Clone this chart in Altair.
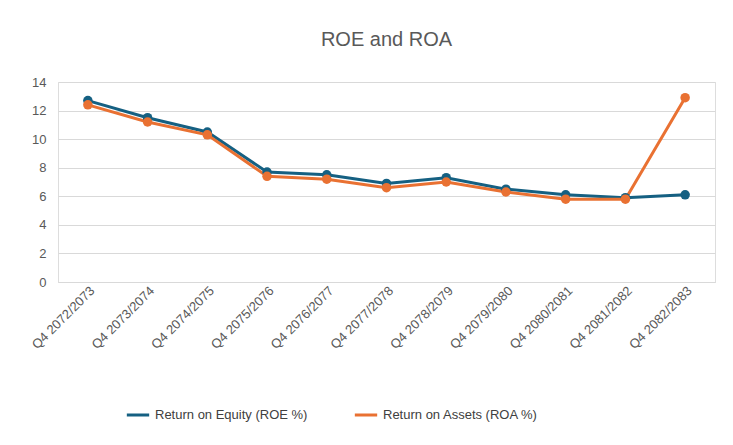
import altair as alt
import pandas as pd

periods = ["Q4 2072/2073", "Q4 2073/2074", "Q4 2074/2075", "Q4 2075/2076", "Q4 2076/2077",
           "Q4 2077/2078", "Q4 2078/2079", "Q4 2079/2080", "Q4 2080/2081", "Q4 2081/2082",
           "Q4 2082/2083"]
roe = [12.7, 11.5, 10.5, 7.7, 7.5, 6.9, 7.3, 6.5, 6.1, 5.9, 6.1]
roa = [12.4, 11.2, 10.3, 7.4, 7.2, 6.6, 7.0, 6.3, 5.8, 5.8, 12.9]

s_roe = "Return on Equity (ROE %)"
s_roa = "Return on Assets (ROA %)"

df = pd.concat([
    pd.DataFrame({"period": periods, "value": roe, "series": s_roe}),
    pd.DataFrame({"period": periods, "value": roa, "series": s_roa}),
])

chart = (
    alt.Chart(df)
    .mark_line(strokeWidth=3, point=alt.OverlayMarkDef(size=90, filled=True, opacity=1))
    .encode(
        x=alt.X("period:N", sort=periods, title=None,
                scale=alt.Scale(type="point", padding=0.5),
                axis=alt.Axis(labelAngle=-45, labelFontSize=13, labelColor="#595959",
                              ticks=False, domainColor="#d9d9d9", grid=False)),
        y=alt.Y("value:Q", title=None,
                scale=alt.Scale(domain=[0, 14]),
                axis=alt.Axis(values=list(range(0, 15, 2)), labelFontSize=13, labelColor="#595959",
                              ticks=False, domain=False, gridColor="#d9d9d9", labelPadding=12)),
        color=alt.Color("series:N", sort=[s_roe, s_roa],
                        scale=alt.Scale(domain=[s_roe, s_roa], range=["#156082", "#E97132"]),
                        legend=alt.Legend(title=None, orient="none", direction="horizontal",
                                          legendX=67, legendY=320,
                                          labelFontSize=13, labelColor="#404040",
                                          symbolType="stroke", symbolStrokeWidth=3,
                                          symbolSize=500, columnPadding=40)),
    )
    .properties(
        width=657, height=200,
        title=alt.TitleParams("ROE and ROA", fontSize=20, fontWeight="normal",
                              color="#595959", offset=26),
        autosize=alt.AutoSizeParams(type="none"),
        padding={"left": 50, "top": 74, "right": 10, "bottom": 150},
    )
    .configure_view(strokeWidth=0)
    .configure(font="Liberation Sans")
)

chart.save("out.html", embed_options={"renderer": "svg", "actions": False})
